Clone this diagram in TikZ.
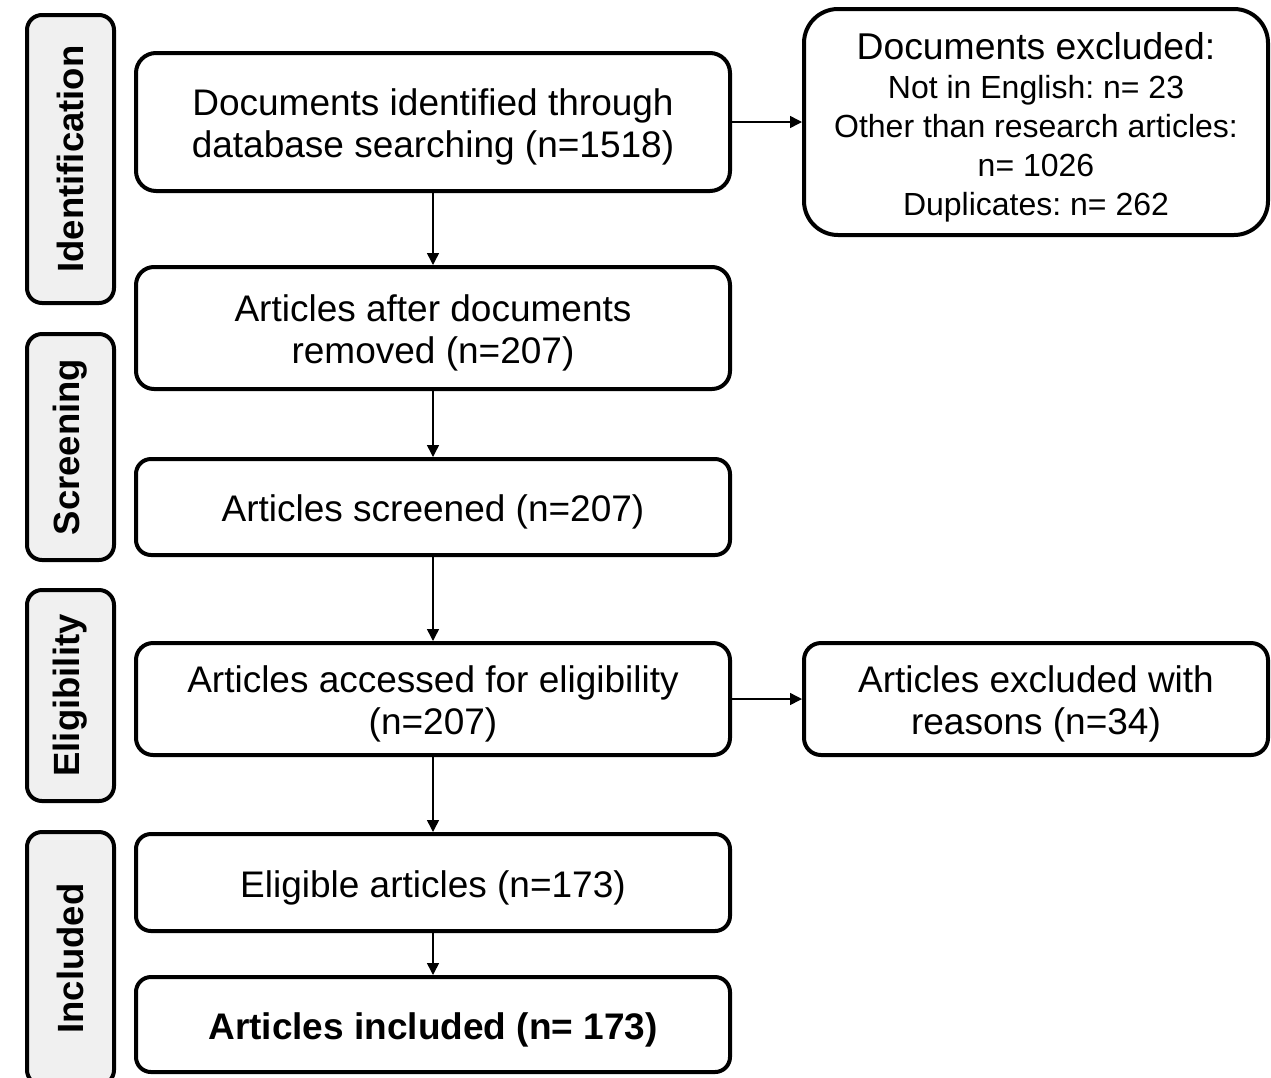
\documentclass[tikz,border=0pt]{standalone}
\usepackage{fontspec}
\setmainfont{Liberation Sans}
\usetikzlibrary{arrows.meta}
\definecolor{sidefill}{RGB}{240,240,240}
\frenchspacing
\begin{document}
\frenchspacing
\begin{tikzpicture}[x=1pt,y=-1pt,
  box/.style={draw=black, line width=4pt, rounded corners=#1, inner sep=0pt},
  box/.default=16pt,
  txt/.style={inner sep=0pt, align=center, font=\fontsize{37}{42}\selectfont},
  side/.style={draw=black, fill=sidefill, line width=4pt, rounded corners=15pt, inner sep=0pt,
    rotate=90, minimum height=87pt, font=\bfseries\fontsize{36.5}{40}\selectfont},
  arr/.style={line width=1.5pt, -{Triangle[length=12pt,width=12pt]}}]
\useasboundingbox (0,0) rectangle (1271,1077);

% phase labels
\node[side, minimum width=288pt] (sid) at (70.5,159) {Identification};
\node[side, minimum width=226pt] (ssc) at (70.5,447) {Screening};
\node[side, minimum width=211pt] (sel) at (70.5,695.5) {Eligibility};
\node[side, minimum width=253pt] (sin) at (70.5,958.5) {Included};

% main column
\node[box=20pt, minimum width=594pt, minimum height=138pt] (b1) at (433,122) {};
\node[txt] (b1t) at ([yshift=-5pt]b1.center) {Documents identified through\\database searching (n=1518)};
\node[box=18pt, minimum width=594pt, minimum height=122pt] (b2) at (433,328) {};
\node[txt] (b2t) at ([yshift=-5pt]b2.center) {Articles after documents\\removed (n=207)};
\node[box=15pt, minimum width=594pt, minimum height=96pt] (b3) at (433,507) {};
\node[txt] (b3t) at ([yshift=-5pt]b3.center) {Articles screened (n=207)};
\node[box=17pt, minimum width=594pt, minimum height=112pt] (b4) at (433,699) {};
\node[txt] (b4t) at ([yshift=-5pt]b4.center) {Articles accessed for eligibility\\(n=207)};
\node[box=15pt, minimum width=594pt, minimum height=97pt] (b5) at (433,882.5) {};
\node[txt] (b5t) at ([yshift=-5pt]b5.center) {Eligible articles (n=173)};
\node[box=15pt, minimum width=594pt, minimum height=95pt] (b6) at (433,1024.5) {};
\node[txt] (b6t) at ([yshift=-5pt]b6.center) {\bfseries Articles included (n= 173)};

% right column
\node[box=34pt, minimum width=464pt, minimum height=226pt] (r1) at (1036,122) {};
\node[txt, font=\fontsize{32}{39}\selectfont] (r1t) at ([yshift=-5pt]r1.center)
  {{\fontsize{37.3}{39}\selectfont Documents excluded:}\\Not in English: n= 23\\Other than research articles:\\n= 1026\\Duplicates: n= 262};
\node[box=17pt, minimum width=464pt, minimum height=112pt] (r2) at (1036,699) {};
\node[txt] (r2t) at ([yshift=-5pt]r2.center) {Articles excluded with\\reasons (n=34)};

% connectors
\draw[arr] (b1) -- (b2);
\draw[arr] (b2) -- (b3);
\draw[arr] (b3) -- (b4);
\draw[arr] (b4) -- (b5);
\draw[arr] (b5) -- (b6);
\draw[arr] (b1.east) -- (r1.west);
\draw[arr] (b4.east) -- (r2.west);
\end{tikzpicture}
\end{document}
